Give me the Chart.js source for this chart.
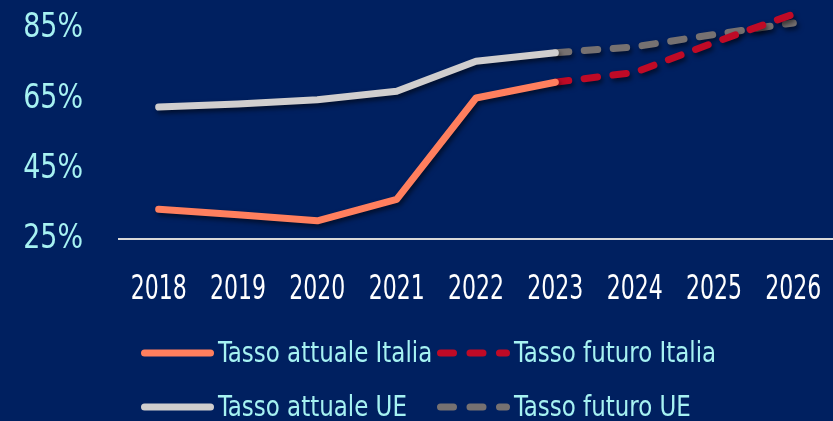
<!DOCTYPE html>
<html>
<head>
<meta charset="utf-8">
<script src="https://cdn.jsdelivr.net/npm/chart.js@4"></script>
<style>
  body { margin: 0; background: #002060; }
  canvas { display: block; }
</style>
</head>
<body>
<canvas id="tassoChart" width="833" height="421"></canvas>
<script>
// ======================
// DATA
// ======================
const years = ["2018","2019","2020","2021","2022","2023","2024","2025","2026"];

const italiaAttuale = [33.5, 31.9, 30.2, 36.3, 65.2, 69.7, null, null, null];
const italiaFuturo  = [null, null, null, null, null, 69.7, 72.5, 81.0, 89.1];
const ueAttuale     = [62.6, 63.5, 64.7, 67.1, 75.7, 78.1, null, null, null];
const ueFuturo      = [null, null, null, null, null, 78.1, 79.8, 83.3, 86.6];

const yTicks = [25, 45, 65, 85];

const seriesNames = ["Tasso attuale Italia","Tasso futuro Italia","Tasso attuale UE","Tasso futuro UE"];

const FONT = "'DejaVu Sans Condensed','DejaVu Sans',sans-serif";
Chart.defaults.font.family = FONT;

const CYAN = "#A6F2F2";

// the original uses a very narrow font, so text is squeezed horizontally
function narrowText(c, text, x, y, size, sx, align, color){
  c.save();
  c.font = size + "px " + FONT;
  c.fillStyle = color;
  c.textBaseline = "middle";
  c.textAlign = align;
  c.translate(x, y);
  c.scale(sx, 1);
  c.fillText(text, 0, 0);
  c.restore();
}

// soft shadow under the lines
const shadowPlugin = {
  id: "lineShadow",
  beforeDatasetsDraw(chart){
    const c = chart.ctx;
    c.save();
    c.shadowColor = "rgba(0,0,0,0.55)";
    c.shadowBlur = 5;
    c.shadowOffsetX = 2;
    c.shadowOffsetY = 3;
  },
  afterDatasetsDraw(chart){
    chart.ctx.restore();
  }
};

// tick labels, placed from the chart's own scales
const tickLabels = {
  id: "tickLabels",
  afterDraw(chart){
    const c = chart.ctx;
    const xs = chart.scales.x, ys = chart.scales.y;
    xs.ticks.forEach((t, i) => {
      narrowText(c, xs.getLabelForValue(t.value), xs.getPixelForTick(i), 290, 34, 0.72, "center", "#FFFFFF");
    });
    ys.ticks.forEach(t => {
      narrowText(c, t.value + "%", xs.left - 36, ys.getPixelForValue(t.value), 34, 0.88, "right", CYAN);
    });
  }
};

// legend in a 2x2 grid like the original
const gridLegend = {
  id: "gridLegend",
  afterDraw(chart){
    const c = chart.ctx;
    const cols = [141, 437];
    const rows = [353, 407];
    chart.data.datasets.forEach((ds, i) => {
      const x = cols[i % 2];
      const y = rows[Math.floor(i / 2)];
      c.save();
      c.strokeStyle = ds.borderColor;
      c.lineWidth = 7;
      c.lineCap = "round";
      c.setLineDash(ds.borderDash && ds.borderDash.length ? [13, 16.5] : []);
      c.beginPath();
      c.moveTo(x + 3.5, y);
      c.lineTo(x + 69.5, y);
      c.stroke();
      c.restore();
      narrowText(c, ds.label, x + 77, y + 1, 29, 0.88, "left", CYAN);
    });
  }
};

const lineStyle = (label, data, color, dashed) => ({
  label: label,
  data: data,
  borderColor: color,
  backgroundColor: color,
  borderWidth: 7,
  borderDash: dashed ? [13.5, 15.5] : [],
  borderCapStyle: "round",
  borderJoinStyle: "round",
  pointRadius: 0,
  tension: 0,
  clip: false
});

new Chart(document.getElementById("tassoChart"), {
  type: "line",
  data: {
    labels: years,
    datasets: [
      lineStyle(seriesNames[0], italiaAttuale, "#FF7F5E", false),
      lineStyle(seriesNames[1], italiaFuturo, "#BF0A26", true),
      lineStyle(seriesNames[2], ueAttuale, "#D0CECE", false),
      lineStyle(seriesNames[3], ueFuturo, "#767171", true)
    ]
  },
  options: {
    responsive: false,
    animation: false,
    layout: { padding: { top: 4, right: 0, bottom: 107, left: 0 } },
    plugins: {
      legend: { display: false },
      tooltip: { enabled: false }
    },
    scales: {
      x: {
        offset: true,
        grid: { display: false, drawTicks: false },
        border: { display: true, color: "#D9D9D9", width: 2 },
        ticks: { display: false, autoSkip: false },
        afterFit: s => { s.height = 75; s.paddingLeft = 0; s.paddingRight = 0; }
      },
      y: {
        min: 25,
        max: 92,
        grid: { display: false, drawTicks: false },
        border: { display: false },
        ticks: { display: false },
        afterBuildTicks: s => { s.ticks = yTicks.map(v => ({ value: v })); },
        afterFit: s => { s.width = 119; s.paddingTop = 0; s.paddingBottom = 0; }
      }
    }
  },
  plugins: [shadowPlugin, tickLabels, gridLegend]
});
</script>
</body>
</html>
